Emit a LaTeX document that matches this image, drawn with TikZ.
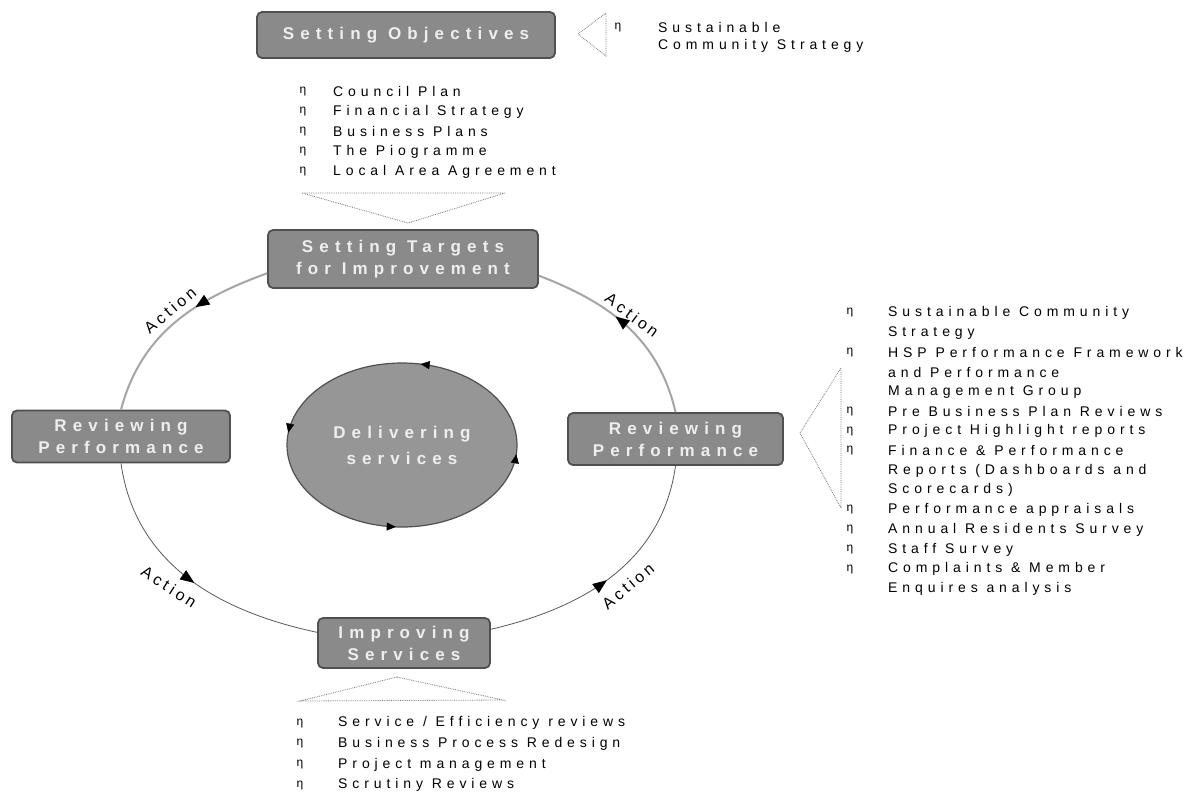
\documentclass[tikz,border=0pt]{standalone}
\usepackage{fontspec}
\setmainfont{Liberation Sans}
\newfontfamily\boxfont{Liberation Sans}[LetterSpace=36]
\newfontfamily\listfont{Liberation Sans}[LetterSpace=35]
\newfontfamily\actfont{Liberation Sans}[LetterSpace=22]
\usetikzlibrary{shapes.geometric,arrows.meta,decorations.markings}
\definecolor{boxfill}{RGB}{138,138,138}
\definecolor{boxedge}{RGB}{80,80,80}
\definecolor{boxtext}{RGB}{238,238,238}
\definecolor{ellfill}{RGB}{150,150,150}
\definecolor{arcgray}{RGB}{165,165,165}
\definecolor{thinarc}{RGB}{90,90,90}
\definecolor{dotgray}{RGB}{120,120,120}
\tikzset{
  stagebox/.style={draw=boxedge, line width=1.8pt, fill=boxfill, rounded corners=5pt,
    text=boxtext, font=\boxfont\bfseries\fontsize{17}{22}\selectfont, align=center, inner sep=0pt},
  listtext/.style={anchor=west, inner sep=0pt, font=\listfont\fontsize{14}{17}\selectfont},
  bulletmark/.style={inner sep=0pt, font=\fontsize{12}{14}\selectfont},
  actionlbl/.style={inner sep=0pt, font=\actfont\fontsize{16}{18}\selectfont},
  cycT/.style={draw=arcgray, line width=2pt, postaction=decorate,
    decoration={markings, mark=at position #1 with {\arrow{Triangle[color=black,length=14pt,width=11pt]}}}},
  cycB/.style={draw=thinarc, line width=0.8pt, postaction=decorate,
    decoration={markings, mark=at position #1 with {\arrow{Triangle[color=black,length=14pt,width=11pt]}}}},
  dottri/.style={draw=dotgray, densely dotted, line width=0.8pt},
}
\begin{document}
\begin{tikzpicture}[x=1pt,y=-1pt]
\useasboundingbox (0,0) rectangle (1204,796);
\fill[white] (0,0) rectangle (1204,796);

% stages
\node[stagebox, minimum width=298pt, minimum height=46pt] (obj) at (406,35) {Setting Objectives};
\node[stagebox, minimum width=270pt, minimum height=58pt] (tgt) at (403,259) {Setting Targets\\for Improvement};
\node[stagebox, minimum width=218pt, minimum height=52pt] (revL) at (121,436.5) {Reviewing\\Performance};
\node[stagebox, minimum width=215pt, minimum height=52pt] (revR) at (675.5,439) {Reviewing\\Performance};
\node[stagebox, minimum width=172pt, minimum height=50pt] (imp) at (404,643) {Improving\\Services};
\node[ellipse, draw=boxedge, line width=1.2pt, fill=ellfill, minimum width=230pt, minimum height=164pt,
  text=boxtext, font=\boxfont\bfseries\fontsize{17}{26}\selectfont, align=center, inner sep=0pt] (del) at (402,445) {Delivering\\services};
\path[decoration={markings,
  mark=at position 0.22 with {\arrow{Triangle[length=9pt,width=8pt]}},
  mark=at position 0.48 with {\arrow{Triangle[length=9pt,width=8pt]}},
  mark=at position 0.74 with {\arrow{Triangle[length=9pt,width=8pt]}},
  mark=at position 0.985 with {\arrow{Triangle[length=9pt,width=8pt]}}}, decorate]
  (del.center) ellipse[x radius=115pt, y radius=82pt];

% cycle connectors
\draw[cycB=0.48] (imp.9) to[out=13, in=262] (revR.south);
\draw[cycT=0.57] (revR.north) to[out=103, in=-21] (tgt.-7);
\draw[cycT=0.38] (tgt.186) to[out=200, in=75] (revL.north);
\draw[cycB=0.52] (revL.south) to[out=-82, in=168] (imp.173);

\node[actionlbl, rotate=40] (a1) at (170,310) {Action};
\node[actionlbl, rotate=-37] (a2) at (632,315) {Action};
\node[actionlbl, rotate=-33] (a3) at (169,587) {Action};
\node[actionlbl, rotate=40] (a4) at (628,586) {Action};

% dotted triangles
\draw[dottri] (578,34) -- (606,13) -- (606,56) -- cycle;
\draw[dottri] (302,193) -- (505,193) -- (408,223) -- cycle;
\draw[dottri] (800,433) -- (841,368) -- (841,508) -- cycle;
\draw[dottri] (397,677) -- (503,700) -- (300,701) -- cycle;

% top right note
\node[bulletmark] (nb) at (618,28) {η};
\node[listtext] (n1) at (658,27) {Sustainable};
\node[listtext] (n2) at (658,46) {Community Strategy};

% top list
\foreach \t [count=\i] in {Council Plan, Financial Strategy, Business Plans, The Piogramme, Local Area Agreement} {
  \node[bulletmark] (tb\i) at (303,{71+20.2*\i}) {η};
  \node[listtext] (tl\i) at (333,{71+20.2*\i}) {\t};
}

% right list
\foreach \t/\b [count=\i] in {Sustainable Community/1, Strategy/0, HSP Performance Framework/1, and Performance/0, Management Group/0, Pre Business Plan Reviews/1, Project Highlight reports/1, Finance \& Performance/1, Reports (Dashboards and/0, Scorecards)/0, Performance appraisals/1, Annual Residents Survey/1, Staff Survey/1, Complaints \& Member/1, Enquires analysis/0} {
  \ifnum\b=1 \node[bulletmark] (rb\i) at (850,{293.3+19.7*\i}) {η};\fi
  \node[listtext] (rl\i) at (888,{293.3+19.7*\i}) {\t};
}

% bottom list
\foreach \t [count=\i] in {Service / Efficiency reviews, Business Process Redesign, Project management, Scrutiny Reviews} {
  \node[bulletmark] (bb\i) at (300,{702.5+20.7*\i}) {η};
  \node[listtext] (bl\i) at (338,{702.5+20.7*\i}) {\t};
}
\end{tikzpicture}
\end{document}
